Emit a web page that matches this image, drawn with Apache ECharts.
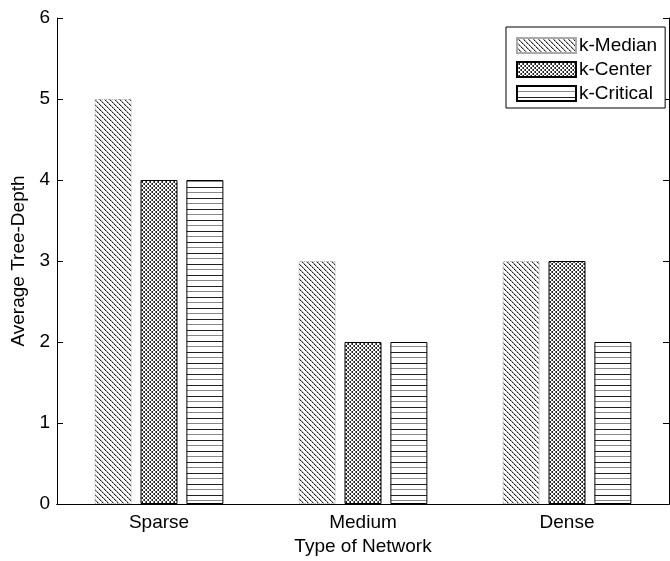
<!DOCTYPE html>
<html><head><meta charset="utf-8">
<script src="https://cdn.jsdelivr.net/npm/echarts@6/dist/echarts.min.js"></script>
<style>html,body{margin:0;padding:0;background:#fff}#c{width:670px;height:561px}</style>
</head><body><div id="c"></div>
<script>
const categories = ['Sparse', 'Medium', 'Dense'];
const seriesNames = ['k-Median', 'k-Center', 'k-Critical'];
const kMedian = [5, 3, 3];
const kCenter = [4, 2, 3];
const kCritical = [4, 2, 2];
const yTicks = [0, 1, 2, 3, 4, 5, 6];

function tile(w, h, pts) {
  const c = document.createElement('canvas');
  c.width = w; c.height = h;
  const ctx = c.getContext('2d');
  ctx.fillStyle = '#fff'; ctx.fillRect(0, 0, w, h);
  pts.forEach(p => { ctx.fillStyle = p[2]; ctx.fillRect(p[0], p[1], p[3] || 1, 1); });
  return c;
}
const medianPts = [];
for (let i = 0; i < 5; i++) { medianPts.push([i, i, i % 2 ? '#777' : '#222']); medianPts.push([(i + 1) % 5, i, '#bbb']); }
const medianTile = tile(5, 5, medianPts);
const centerTile = tile(4, 4, [[0,0,'#222'],[1,1,'#777'],[2,2,'#222'],[3,3,'#777'],[3,0,'#777'],[2,1,'#222'],[1,2,'#777'],[0,3,'#222']]);
const criticalTile = tile(4, 11, [[0,0,'#222',4],[0,5,'#888',4]]);

const FONT = 'Liberation Sans, Arial, sans-serif';
const FS = 19;
const chart = echarts.init(document.getElementById('c'), null, {renderer: 'canvas'});
const barCommon = {type: 'bar', barWidth: 37, barGap: '24%', xAxisIndex: 0, yAxisIndex: 0};
chart.setOption({
  animation: false,
  backgroundColor: '#fff',
  textStyle: {fontFamily: FONT},
  grid: {left: 57, top: 18, right: 1, bottom: 57, containLabel: false},
  legend: {
    left: 506, top: 27, orient: 'vertical', align: 'left',
    padding: [9, 8, 5, 10], itemGap: 5, itemWidth: 59, itemHeight: 15,
    backgroundColor: '#fff', borderColor: '#000', borderWidth: 1, borderRadius: 0,
    textStyle: {fontSize: FS, color: '#000', fontFamily: FONT, padding: [0, 0, 0, -2]},
    data: seriesNames.map(n => ({name: n, icon: 'rect'}))
  },
  xAxis: [{
    type: 'category', data: categories, position: 'bottom',
    name: 'Type of Network', nameLocation: 'middle', nameGap: 30,
    nameTextStyle: {fontSize: FS, color: '#000', fontFamily: FONT},
    axisLine: {lineStyle: {color: '#000', width: 1}},
    axisTick: {show: true, inside: true, alignWithLabel: true, length: 4, lineStyle: {color: '#000'}},
    axisLabel: {fontSize: FS, color: '#000', margin: 9, fontFamily: FONT},
    splitLine: {show: false}
  }, {
    type: 'category', data: categories, position: 'top',
    axisLine: {show: true, lineStyle: {color: '#000', width: 1}},
    axisTick: {show: false}, axisLabel: {show: false}, splitLine: {show: false}
  }],
  yAxis: [{
    type: 'value', min: yTicks[0], max: yTicks[yTicks.length - 1], interval: 1,
    name: 'Average Tree-Depth', nameLocation: 'middle', nameGap: 29, nameRotate: 90,
    nameTextStyle: {fontSize: FS, color: '#000', fontFamily: FONT},
    axisLine: {show: true, lineStyle: {color: '#000', width: 1}},
    axisTick: {show: true, inside: true, length: 6, lineStyle: {color: '#000'}},
    axisLabel: {fontSize: FS, color: '#000', margin: 7, fontFamily: FONT},
    splitLine: {show: false}
  }, {
    type: 'value', min: yTicks[0], max: yTicks[yTicks.length - 1], interval: 1, position: 'right',
    axisLine: {show: true, lineStyle: {color: '#000', width: 1}},
    axisTick: {show: true, inside: true, length: 6, lineStyle: {color: '#000'}},
    axisLabel: {show: false}, splitLine: {show: false}
  }],
  series: [
    Object.assign({}, barCommon, {name: seriesNames[0], data: kMedian,
      itemStyle: {color: {image: medianTile, repeat: 'repeat'}, borderColor: '#aaa', borderWidth: 1, borderType: 'dotted'}}),
    Object.assign({}, barCommon, {name: seriesNames[1], data: kCenter,
      itemStyle: {color: {image: centerTile, repeat: 'repeat'}, borderColor: '#000', borderWidth: 1}}),
    Object.assign({}, barCommon, {name: seriesNames[2], data: kCritical,
      itemStyle: {color: {image: criticalTile, repeat: 'repeat'}, borderColor: '#000', borderWidth: 1}})
  ]
});
</script></body></html>
